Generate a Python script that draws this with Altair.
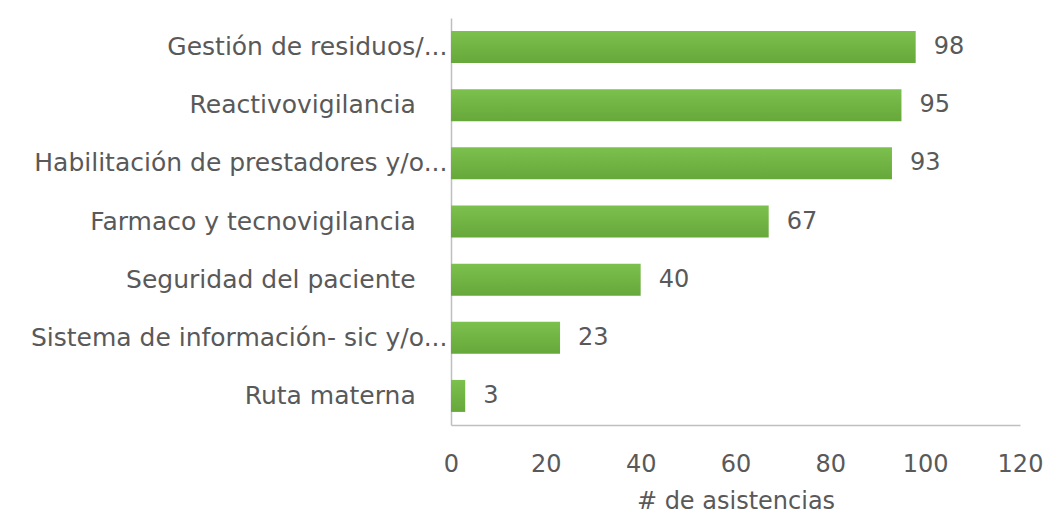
import altair as alt
import pandas as pd

PAD = "\u00a0" * 4 + "\u200b"
categories = [
    "Gestión de residuos/...",
    "Reactivovigilancia" + PAD,
    "Habilitación de prestadores y/o...",
    "Farmaco y tecnovigilancia" + PAD,
    "Seguridad del paciente" + PAD,
    "Sistema de información- sic y/o...",
    "Ruta materna" + PAD,
]
values = [98, 95, 93, 67, 40, 23, 3]

df = pd.DataFrame({"cat": categories, "val": values})

FONT = "DejaVu Sans"
FS = 24
TXT = "#595959"

y_enc = alt.Y(
    "cat:N",
    sort=categories,
    title=None,
    scale=alt.Scale(paddingInner=0.45, paddingOuter=0.225),
    axis=alt.Axis(
        labelFont=FONT, labelFontSize=25, labelColor=TXT, labelPadding=4,
        ticks=False, domainColor="#bfbfbf", domainWidth=1.5, labelLimit=600,
    ),
)
x_enc = alt.X(
    "val:Q",
    title="# de asistencias",
    scale=alt.Scale(domain=[0, 120]),
    axis=alt.Axis(
        values=[0, 20, 40, 60, 80, 100, 120], grid=False, ticks=False,
        labelFlush=False,
        labelFont=FONT, labelFontSize=FS, labelColor=TXT, labelPadding=27,
        titleFont=FONT, titleFontSize=FS, titleColor=TXT, titleFontWeight="normal",
        titlePadding=13, domainColor="#bfbfbf", domainWidth=1.5,
    ),
)

bars = alt.Chart(df).mark_bar(
    color=alt.Gradient(
        gradient="linear", x1=0, x2=0, y1=0, y2=1,
        stops=[alt.GradientStop(color="#7cc04e", offset=0),
               alt.GradientStop(color="#66a83a", offset=1)],
    )
).encode(y=y_enc, x=x_enc)

labels = alt.Chart(df).mark_text(
    align="left", baseline="middle", dx=18, font=FONT, fontSize=FS, color=TXT
).encode(y=alt.Y("cat:N", sort=categories), x="val:Q", text="val:Q")

chart = (bars + labels).properties(
    width=569, height=407,
    autosize=alt.AutoSizeParams(type="none"),
    padding={"left": 443, "top": 10, "right": 25, "bottom": 91},
).configure_view(stroke=None)

chart.save("out.html", embed_options={"renderer": "svg", "actions": False})
